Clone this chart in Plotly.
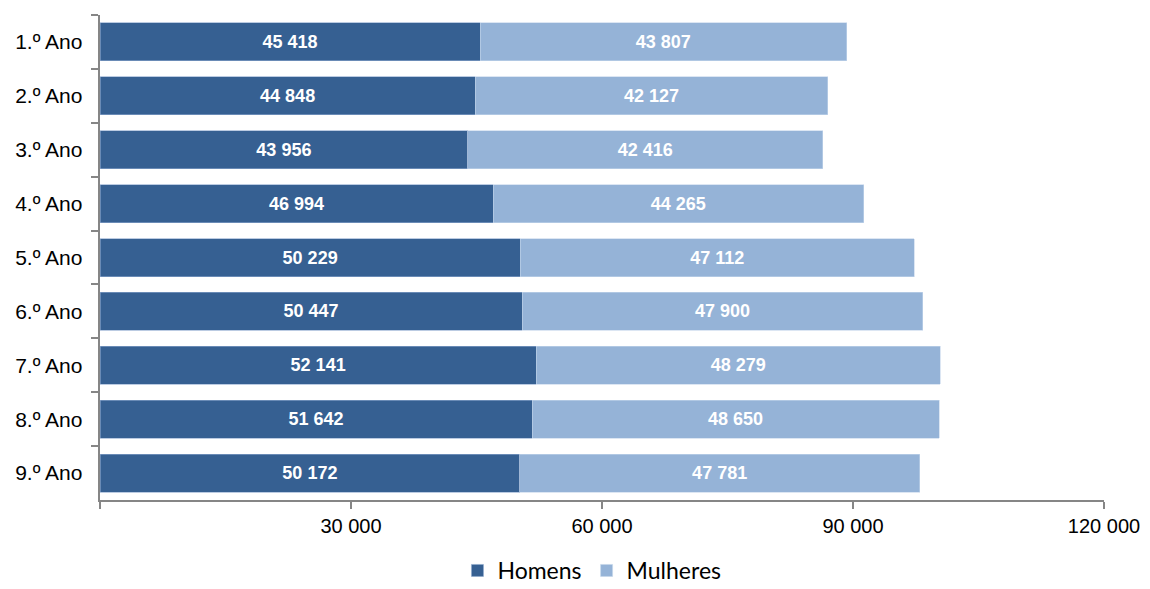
import plotly.graph_objects as go

categories = ["1.º Ano", "2.º Ano", "3.º Ano", "4.º Ano", "5.º Ano", "6.º Ano", "7.º Ano", "8.º Ano", "9.º Ano"]
homens = [45418, 44848, 43956, 46994, 50229, 50447, 52141, 51642, 50172]
mulheres = [43807, 42127, 42416, 44265, 47112, 47900, 48279, 48650, 47781]
tick_vals = [0, 30000, 60000, 90000, 120000]
tick_text = ["", "30 000", "60 000", "90 000", "120 000"]

def fmt(v):
    return f"{v:,}".replace(",", " ")

fig = go.Figure()
fig.add_trace(go.Bar(
    y=categories, x=homens, name="Homens", orientation="h",
    marker=dict(color="#366092", line=dict(color="#8EA9CF", width=0.6)),
    text=[fmt(v) for v in homens], textposition="inside", insidetextanchor="middle",
    textfont=dict(color="white", size=18, family="Liberation Sans", weight="bold"),
))
fig.add_trace(go.Bar(
    y=categories, x=mulheres, name="Mulheres", orientation="h",
    marker=dict(color="#95B3D7", line=dict(color="#C5D6EB", width=0.6)),
    text=[fmt(v) for v in mulheres], textposition="inside", insidetextanchor="middle",
    textfont=dict(color="white", size=18, family="Liberation Sans", weight="bold"),
))

fig.update_layout(
    barmode="stack", bargap=0.295,
    width=1150, height=589,
    margin=dict(l=92, r=54, t=7, b=97, autoexpand=False),
    plot_bgcolor="white", paper_bgcolor="white",
    font=dict(family="Liberation Sans", size=20, color="#000000"),
    uniformtext=dict(mode=False),
    legend=dict(orientation="h", x=0.49, xanchor="center",
                yref="container", y=0.045, yanchor="middle",
                font=dict(family="Lato", size=23, color="#000000"),
                itemwidth=30, traceorder="normal"),
    xaxis=dict(range=[0, 120000], tickvals=tick_vals, ticktext=tick_text, automargin=False,
               showgrid=False, zeroline=False, showline=True, linecolor="#868686", linewidth=1.5,
               ticks="outside", ticklen=7, tickcolor="#868686", tickwidth=1.5,
               tickfont=dict(size=20, family="Liberation Sans")),
    yaxis=dict(autorange="reversed", showgrid=False, showline=True, linecolor="#868686", linewidth=1.5,
               automargin=False,
               ticks="outside", tickson="boundaries", ticklen=7, tickcolor="#868686", tickwidth=1.5,
               tickfont=dict(size=21, family="Liberation Sans"), ticksuffix="  "),
)

fig.write_html("out.html")
